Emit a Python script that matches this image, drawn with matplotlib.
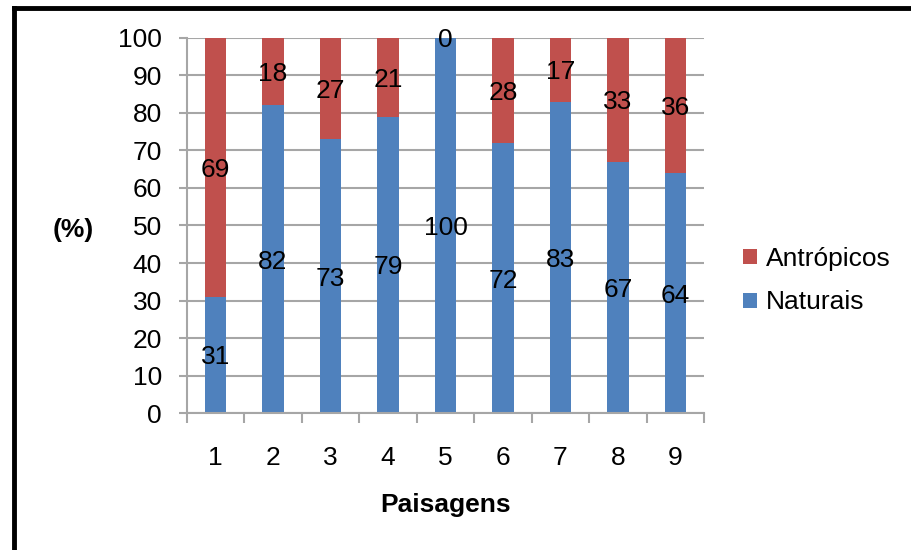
import matplotlib.pyplot as plt
import numpy as np
from matplotlib.lines import Line2D

plt.rcParams['font.family'] = ['Liberation Sans', 'DejaVu Sans']

# Data
paisagens = ['1', '2', '3', '4', '5', '6', '7', '8', '9']
naturais = [31, 82, 73, 79, 100, 72, 83, 67, 64]
antropicos = [69, 18, 27, 21, 0, 28, 17, 33, 36]

blue = '#4F81BD'
red = '#C0504D'
grid_c = '#A6A6A6'

fig = plt.figure(figsize=(9.11, 5.5), dpi=100)
ax = fig.add_axes([0.205, 0.249, 0.568, 0.682])

x = np.arange(1, len(paisagens) + 1)
b1 = ax.bar(x, naturais, width=0.38, color=blue, label='Naturais', zorder=2)
b2 = ax.bar(x, antropicos, width=0.38, bottom=naturais, color=red,
            label='Antrópicos', zorder=2)

# value labels in the middle of each segment
for xi, n, a in zip(x, naturais, antropicos):
    ax.text(xi, n / 2, str(n), ha='center', va='center_baseline', fontsize=19, zorder=3)
    ax.text(xi, n + a / 2, str(a), ha='center', va='center_baseline', fontsize=19, zorder=3)

ax.set_xlim(0.5, len(paisagens) + 0.5)
ax.set_ylim(0, 100)
ax.set_yticks(np.arange(0, 101, 10))
ax.set_xticks(x)
ax.set_xticklabels(paisagens)
ax.set_xticks(np.arange(0.5, len(paisagens) + 1, 1), minor=True)

ax.grid(axis='y', color=grid_c, linewidth=1.5, zorder=0)
for s in ['top', 'right']:
    ax.spines[s].set_visible(False)
for s in ['left', 'bottom']:
    ax.spines[s].set_color(grid_c)
    ax.spines[s].set_linewidth(1.5)

ax.tick_params(axis='y', length=6, color=grid_c, width=1.5, pad=12, labelsize=19)
ax.tick_params(axis='x', which='major', length=0, pad=24, labelsize=19)
ax.tick_params(axis='x', which='minor', length=7, color=grid_c, width=1.5)

ax.set_xlabel('Paisagens', fontsize=19, fontweight='bold', labelpad=16)
ax.set_ylabel('(%)', fontsize=19, fontweight='bold', rotation=0, va='center', ha='center')
ax.yaxis.set_label_coords(-0.22, 0.488)

handles = [b2, b1]
ax.legend(handles, ['Antrópicos', 'Naturais'], loc='center left',
          bbox_to_anchor=(0.79, 0.49), bbox_transform=fig.transFigure,
          frameon=False, fontsize=19, handlelength=0.5, handleheight=0.5,
          handletextpad=0.35, labelspacing=0.75)

# frame of the original image
fig.add_artist(Line2D([0.0155, 0.0155], [0, 0.986], transform=fig.transFigure,
                      color='black', linewidth=3.5))
fig.add_artist(Line2D([0.0155, 1], [0.986, 0.986], transform=fig.transFigure,
                      color='black', linewidth=3.5))

fig.savefig('out.png', dpi=100)
